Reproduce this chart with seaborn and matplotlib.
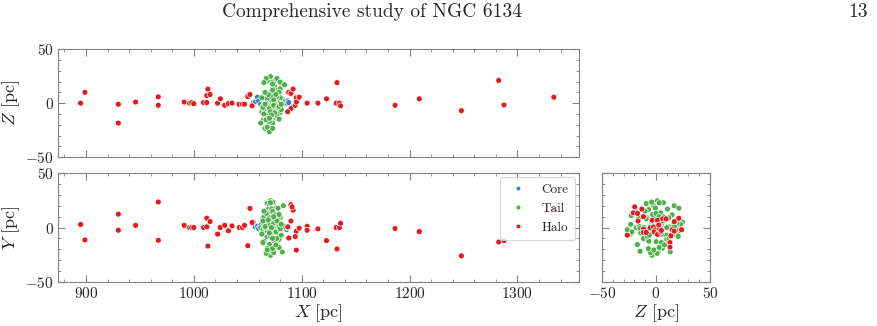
import matplotlib
matplotlib.use('Agg')
import matplotlib.pyplot as plt
from matplotlib.ticker import MultipleLocator
import pandas as pd
import seaborn as sns

# --- data: heliocentric positions [pc] ---
core_x = [1055, 1057, 1059, 1060, 1062, 1065, 1070, 1075, 1080, 1082, 1084, 1086, 1087, 1088]
core_y = [4.9, 0.6, 1.2, -1.0, 2.0, 0.0, 1.0, -1.0, 2.0, 3.0, 0.6, -1.8, 0.0, 1.0]
core_z = [0.0, 1.2, 5.5, 2.0, -1.0, 1.0, 0.0, 2.0, 1.0, 3.7, -0.6, 0.0, 2.0, 0.5]

tail_x = [1071, 1068, 1074, 1083, 1070, 1069, 1076, 1072, 1078, 1066, 1073, 1068, 1075,
          1064, 1080, 1070, 1065, 1078, 1069, 1062, 1076, 1080, 1074, 1066, 1078, 1063,
          1079, 1067, 1072, 1070, 1065, 1075, 1079, 1068, 1069, 1071, 1073, 1064, 1077,
          1071, 1067, 1077, 1065, 1080, 1084, 1073, 1070, 1073, 1068, 1067, 1079,
          1073, 1071, 1082, 1067, 1074, 1068, 1073, 1079, 1068,
          1065, 1064, 1066, 1068, 1070, 1072, 1074, 1076, 1078, 1080, 1079, 1080, 1064,
          1063, 1069, 1071, 1075, 1077, 1081, 1066, 1073, 1079, 1067, 1072, 1081, 1066,
          1074, 1070, 1076, 1065]
tail_y = [24.6, 22.0, 22.8, 20.0, 20.0, 16.6, 17.8, 17.0, 17.8, 11.0, 14.7, 13.5, 11.6,
          8.5, 9.0, 9.0, 9.8, 9.0, 2.3, -0.2, 0.5, 0.5, -0.2, -5.7, -5.7, -5.0,
          -5.0, -7.0, -7.0, -15.6, -12.5, -13.0, -10.7, -8.2, -21.8, -25.5, -22.4, -13.8, -10.0,
          5.0, 3.0, -3.0, -2.0, 4.0, 1.0, 6.0, -2.0, 3.0, -4.0, 1.0, -1.0,
          23.4, 22.8, -22.4, -23.7, -23.0, -19.0, -19.4, -18.3, -20.6,
          3.0, -2.0, 5.0, -3.0, 2.0, -1.0, 4.0, -4.0, 3.0, -2.0, 1.0, -1.0, 6.0,
          -6.0, 7.0, -8.0, 8.0, 6.0, -7.0, 0.0, -10.0, 12.0, 13.0, 0.0, 3.0, 1.0,
          10.0, -5.0, -16.0, 15.0]
tail_z = [1.4, -9.0, 7.0, 16.9, -2.3, -6.7, -0.5, 10.7, 21.2, -22.8, -18.4, 4.5, 15.0,
          -16.0, -8.5, -1.0, 7.0, 12.0, -23.4, -18.4, -13.5, 13.2, 20.0, -23.4, -14.0, -8.0,
          4.0, 9.4, 19.3, -17.2, -6.7, 0.2, 10.0, 20.6, -14.7, -3.6, 13.2, 5.0, -11.6,
          24.6, 22.8, 22.8, 19.0, 19.5, 17.0, 17.6, -26.5, -23.4, -22.2, -15.4, -14.8,
          -4.0, 3.0, 2.0, 1.0, -5.0, 6.0, -7.0, 3.0, -2.0,
          2.0, -3.0, 0.0, 4.0, -5.0, 6.0, -2.0, 3.0, -4.0, 1.0, -3.0, 5.0, -4.0,
          5.0, 8.0, -8.0, -9.0, 6.0, -6.0, 10.0, 12.0, -3.0, 0.0, -11.0, -1.0, -1.0,
          3.0, -14.0, 8.0, -10.0]

halo_x = [895, 899, 930, 930, 946, 967, 967, 991, 996, 998, 1000, 1009, 1012, 1012,
          1013, 1015, 1022, 1024.5, 1028.6, 1032, 1035.4, 1042, 1045, 1047, 1050, 1052,
          1054, 1088, 1090, 1092, 1091, 1090, 1087, 1095, 1094, 1095, 1097.6, 1105,
          1105, 1115, 1123, 1132, 1135, 1136, 1132.7, 1186.5, 1209, 1248, 1282.6,
          1287.5, 1333.7]
halo_y = [2.8, -11.4, 12.3, -2.5, 2.0, 23.5, -11.7, 2.0, 0.0, 0.0, 0.0, 0.0, 8.6, 0.6,
          -17.0, 5.5, -6.0, 0.0, 2.0, -3.0, 1.5, 0.0, 0.0, 2.0, -16.7, 17.6,
          4.6, -9.6, 21.0, 16.0, 19.0, 6.0, 0.6, -3.4, -8.3, -20.7, -0.6, 1.2,
          -2.5, -1.2, -12.0, 0.0, 0.0, 4.0, -19.7, -0.9, -3.7, -26.0, -13.3,
          -12.0, 16.0]
halo_z = [0.0, 10.0, -1.0, -18.5, 1.0, 5.8, -2.0, 1.0, 0.0, 0.5, -0.5, 0.5, 0.5, 7.0,
          13.0, 8.0, 0.0, 4.0, -2.0, -0.5, 0.0, -1.0, -1.0, -1.0, 6.0, 8.0,
          -2.5, 10.0, 9.0, 13.0, -4.0, -5.0, -8.0, 5.0, -2.0, 1.0, 5.5, 0.0,
          0.0, 0.0, 4.0, 0.0, 0.0, -2.5, 19.0, -2.0, 4.0, -7.0, 21.0,
          -1.7, 5.5]

# halo members seen in the Z-Y projection
side_halo_z = [-26.5, -19.7, -21.0, -17.0, -16.6, -13.0, -11.6, -11.6, -9.0, -11.6, -5.4,
               -2.3, -0.5, -3.5, 1.4, -1.7, 1.4, 4.5, 3.2, 2.6, 6.3, 9.4, 5.0, 15.0,
               16.9, 21.2, 16.9, 23.7, 13.8, 13.0, 13.0]
side_halo_y = [-7.0, 19.0, 13.5, 13.0, 6.0, 17.0, -1.4, -4.5, -4.5, 10.0, -0.2,
               0.5, -2.0, 6.7, 6.7, -4.0, -6.3, -4.0, -0.8, 2.3, 8.0, 8.0, -2.6, -2.0,
               5.4, 8.5, -3.3, -2.0, -7.6, -13.8, -18.0]

groups = ['Core', 'Tail', 'Halo']
colors = ['#377eb8', '#4daf4a', '#e41a1c']

df = pd.concat([
    pd.DataFrame({'X': core_x, 'Y': core_y, 'Z': core_z, 'grp': 'Core'}),
    pd.DataFrame({'X': tail_x, 'Y': tail_y, 'Z': tail_z, 'grp': 'Tail'}),
    pd.DataFrame({'X': halo_x, 'Y': halo_y, 'Z': halo_z, 'grp': 'Halo'}),
], ignore_index=True)

side = pd.concat([
    pd.DataFrame({'Z': core_z, 'Y': core_y, 'grp': 'Core'}),
    pd.DataFrame({'Z': tail_z, 'Y': tail_y, 'grp': 'Tail'}),
    pd.DataFrame({'Z': side_halo_z, 'Y': side_halo_y, 'grp': 'Halo'}),
], ignore_index=True)

# --- style ---
sns.set_style('ticks')
plt.rcParams['font.family'] = 'serif'
plt.rcParams['font.serif'] = ['cmr10', 'DejaVu Serif']
plt.rcParams['mathtext.fontset'] = 'cm'
plt.rcParams['axes.formatter.use_mathtext'] = True
plt.rcParams['axes.unicode_minus'] = True
frame = '#808080'

fig = plt.figure(figsize=(8.78, 3.26), dpi=100)
ax_top = fig.add_axes([0.066, 0.518, 0.5934, 0.3313])
ax_bot = fig.add_axes([0.066, 0.135, 0.5934, 0.334])
ax_side = fig.add_axes([0.6856, 0.135, 0.123, 0.334])

kw = dict(hue='grp', hue_order=groups, palette=colors, s=18,
          edgecolor='white', linewidth=0.5)
sns.scatterplot(data=df, x='X', y='Z', ax=ax_top, legend=False, **kw)
sns.scatterplot(data=df, x='X', y='Y', ax=ax_bot, **kw)
sns.scatterplot(data=side, x='Z', y='Y', ax=ax_side, legend=False, **kw)

for ax in (ax_top, ax_bot, ax_side):
    ax.set_ylim(-50, 50)
    ax.yaxis.set_major_locator(MultipleLocator(50))
    ax.yaxis.set_minor_locator(MultipleLocator(10))
    ax.tick_params(which='both', direction='in', top=True, right=True,
                   color=frame, labelsize=11, pad=3)
    ax.tick_params(which='major', length=5, width=0.8)
    ax.tick_params(which='minor', length=2.5, width=0.6)
    for sp in ax.spines.values():
        sp.set_color(frame)
        sp.set_linewidth(0.8)

for ax in (ax_top, ax_bot):
    ax.set_xlim(874, 1357)
    ax.xaxis.set_major_locator(MultipleLocator(100))
    ax.xaxis.set_minor_locator(MultipleLocator(20))

ax_side.set_xlim(-50, 50)
ax_side.xaxis.set_major_locator(MultipleLocator(50))
ax_side.xaxis.set_minor_locator(MultipleLocator(10))

ax_top.set_xlabel('')
ax_top.tick_params(labelbottom=False)
ax_top.set_ylabel(r'$Z$ [pc]', fontsize=13, labelpad=2)
ax_bot.set_xlabel(r'$X$ [pc]', fontsize=13, labelpad=1)
ax_bot.set_ylabel(r'$Y$ [pc]', fontsize=13, labelpad=2)
ax_side.set_xlabel(r'$Z$ [pc]', fontsize=13, labelpad=1)
ax_side.set_ylabel('')
ax_side.tick_params(labelleft=False)

leg = ax_bot.legend(loc='upper right', fontsize=9.5, markerscale=0.8,
                    frameon=True, framealpha=0.8, edgecolor='#cccccc',
                    handlelength=1.6, handletextpad=1.0, borderpad=0.5,
                    labelspacing=0.5, borderaxespad=0.3)
leg.set_title(None)
leg.get_frame().set_linewidth(0.8)

fig.text(0.424, 0.962, 'Comprehensive study of NGC 6134', ha='center', va='center',
         fontsize=14)
fig.text(0.977, 0.962, '13', ha='center', va='center', fontsize=14)

fig.savefig('out.png', dpi=100)
